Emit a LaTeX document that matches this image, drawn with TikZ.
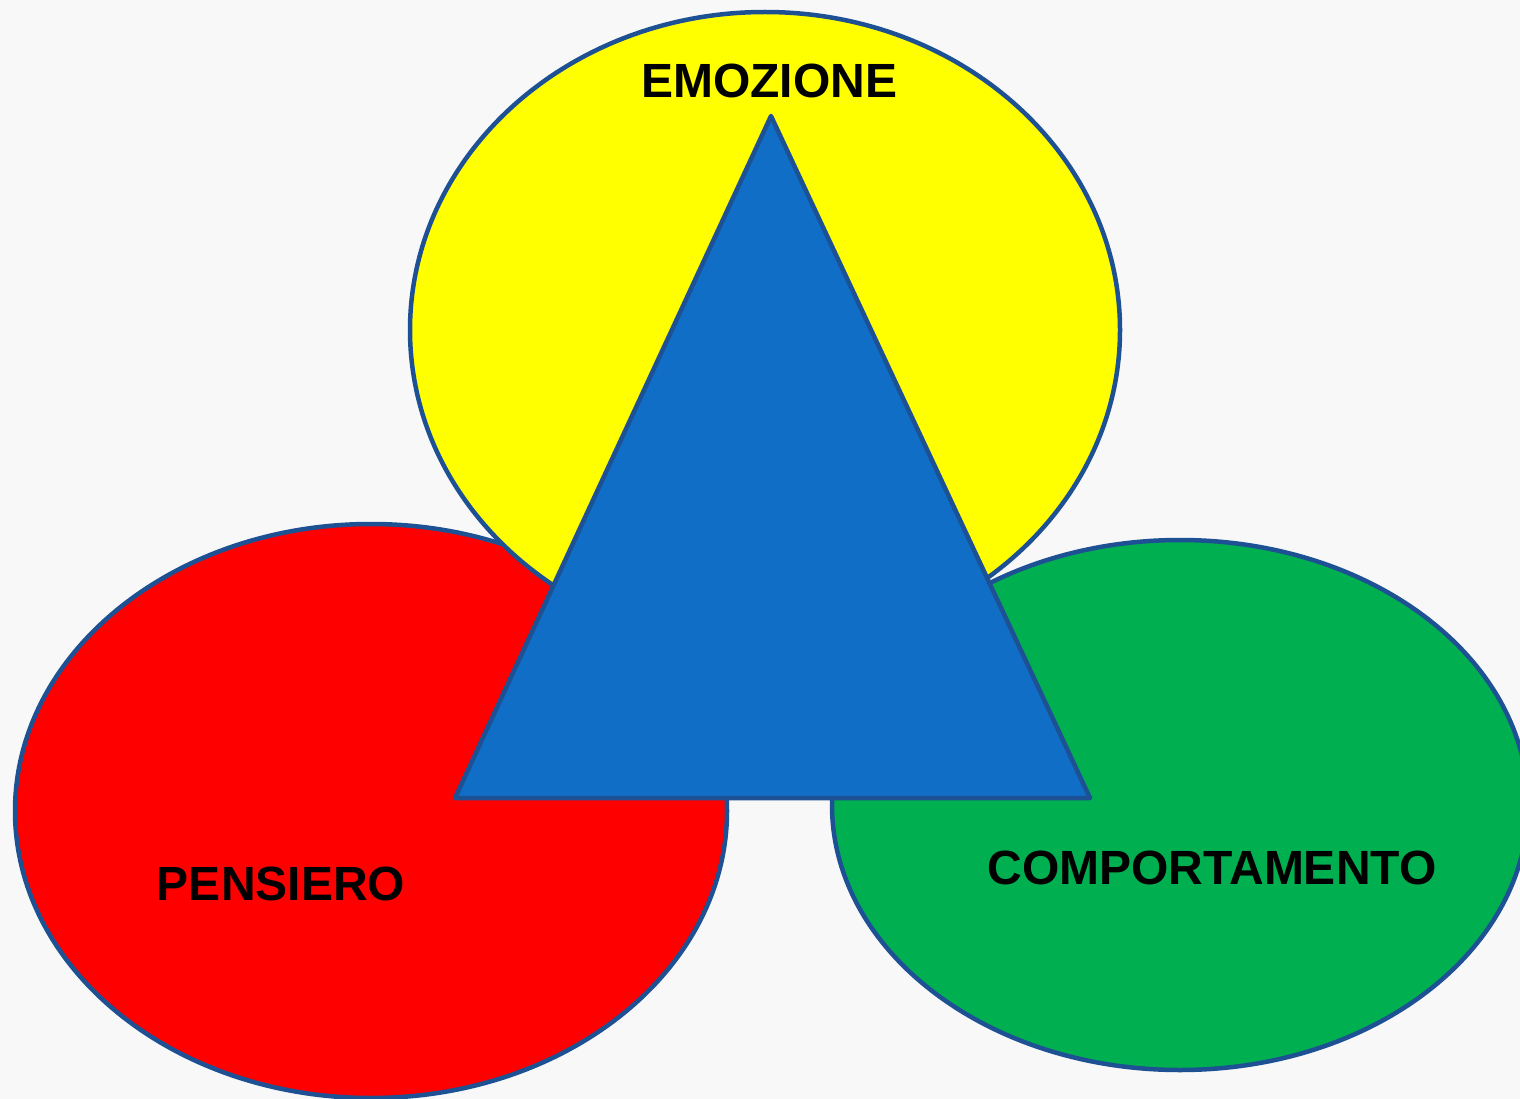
\documentclass[tikz,border=0pt]{standalone}
\usepackage{fontspec}
\setmainfont{Liberation Sans}
\definecolor{bgc}{HTML}{F8F8F8}
\definecolor{edgec}{HTML}{1D5194}
\definecolor{ylw}{HTML}{FFFF00}
\definecolor{rd}{HTML}{FF0000}
\definecolor{grn}{HTML}{00B050}
\definecolor{blu}{HTML}{106EC6}
\tikzset{
  blob/.style={draw=edgec, line width=4.5pt},
  lbl/.style={font=\fontsize{48}{48}\selectfont\bfseries, text=black, inner sep=0pt, anchor=base}
}
\begin{document}
\begin{tikzpicture}[x=1pt,y=-1pt]
\useasboundingbox (0,0) rectangle (1520,1099);
\clip (0,0) rectangle (1520,1099);
\fill[bgc] (0,0) rectangle (1520,1099);
\draw[blob, fill=rd] (371,811) ellipse [x radius=356, y radius=287];
\draw[blob, fill=grn] (1180,805) ellipse [x radius=348, y radius=265];
\draw[blob, fill=ylw] (765,330) ellipse [x radius=355, y radius=318];
\draw[blob, fill=blu, line join=round] (771,116) -- (1090,798) -- (455,798) -- cycle;
\node[lbl] (emo) at (769,98) {EMOZIONE};
\node[lbl] (pen) at (281,900) {PENSIERO};
\node[lbl] (com) at (1212,884) {COMPORTAMENTO};
\end{tikzpicture}
\end{document}
